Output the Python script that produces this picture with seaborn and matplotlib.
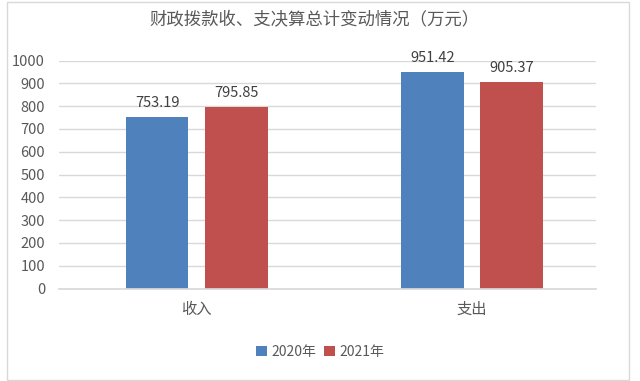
import numpy as np
import pandas as pd
import seaborn as sns
import matplotlib.pyplot as plt
from matplotlib.patches import Rectangle

# Datos del grafico
categorias = ['收入', '支出']
anios = ['2020年', '2021年']
valores_2020 = [753.19, 951.42]
valores_2021 = [795.85, 905.37]
colores = ['#4F81BD', '#C0504D']
titulo = '财政拨款收、支决算总计变动情况（万元）'

df = pd.DataFrame({
    'categoria': categorias * 2,
    'anio': [anios[0]] * 2 + [anios[1]] * 2,
    'valor': valores_2020 + valores_2021,
})

sns.set_theme(style='white')
plt.rcParams['font.family'] = ['Noto Sans CJK SC', 'DejaVu Sans']

fig = plt.figure(figsize=(6.4, 3.81), dpi=100)
ax = fig.add_axes([59 / 640, 1 - 288.5 / 381, 537 / 640, 228 / 381])

sns.barplot(data=df, x='categoria', y='valor', hue='anio', order=categorias,
            hue_order=anios, palette=colores, width=0.575, gap=0.21,
            saturation=1, linewidth=0, ax=ax, legend=True)

# Etiquetas de los valores
for cont in ax.containers:
    ax.bar_label(cont, fmt='%.2f', padding=5, fontsize=10.5, color='#404040')

ax.set_ylim(0, 1000)
ax.set_xlim(-0.5, 1.45)
ax.set_yticks(np.arange(0, 1001, 100))
ax.yaxis.grid(True, color='#D9D9D9', linewidth=1)
ax.set_axisbelow(True)
ax.set_xlabel('')
ax.set_ylabel('')
for s in ['top', 'right', 'left']:
    ax.spines[s].set_visible(False)
ax.spines['bottom'].set_color('#D9D9D9')
ax.tick_params(axis='y', length=0, labelsize=10.5, labelcolor='#595959', pad=10)
ax.tick_params(axis='x', length=0, labelsize=11, labelcolor='#595959', pad=9)

fig.text(314 / 640, 1 - 20 / 381, titulo, ha='center', va='center',
         fontsize=12.5, color='#595959')

handles, labels = ax.get_legend_handles_labels()
ax.legend_.remove()
fig.legend(handles, labels, loc='center', bbox_to_anchor=(320 / 640, 1 - 352 / 381),
           ncol=2, frameon=False, fontsize=10, labelcolor='#595959',
           handlelength=0.8, handleheight=0.8, handletextpad=0.3, columnspacing=0.6)

# Borde del grafico
fig.patches.append(Rectangle((7 / 640, 1 / 381), 622 / 640, 378 / 381,
                             transform=fig.transFigure, fill=False,
                             edgecolor='#D9D9D9', linewidth=1))

fig.savefig('out.png', dpi=100)
